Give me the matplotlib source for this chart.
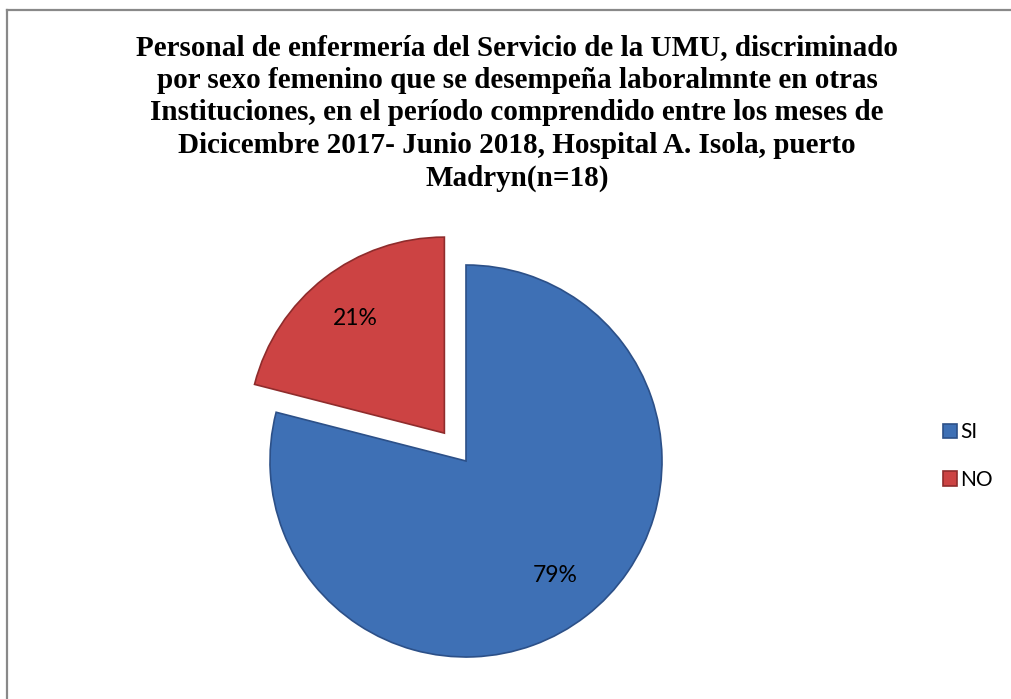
import matplotlib
matplotlib.use("Agg")
import matplotlib.pyplot as plt
from matplotlib.lines import Line2D

labels = ["SI", "NO"]
values = [79, 21]
colors = ["#3e70b5", "#cc4343"]
edge_colors = ["#2c5088", "#8f2c2c"]
explode = [0, 0.18]
title = ("Personal de enfermería del Servicio de la UMU, discriminado\n"
         "por sexo femenino que se desempeña laboralmnte en otras\n"
         "Instituciones, en el período comprendido entre los meses de\n"
         "Dicicembre 2017- Junio 2018, Hospital A. Isola, puerto\n"
         "Madryn(n=18)")

W, H = 1011, 699
fig = plt.figure(figsize=(W / 100, H / 100), dpi=100)

# pie center (px from left/top) and radius in px
cx, cy, r = 466, 461, 196
xl, xr, yb, yt = -1.5, 1.5, -1.2, 1.4
x0 = cx + xl * r
y0 = (H - cy) + yb * r
ax = fig.add_axes([x0 / W, y0 / H, (xr - xl) * r / W, (yt - yb) * r / H])
ax.set_xlim(xl, xr)
ax.set_ylim(yb, yt)
ax.axis("off")

wedges, texts, autotexts = ax.pie(
    values, explode=explode, colors=colors, startangle=90, counterclock=False,
    autopct="%1.0f%%", pctdistance=0.74, radius=1.0,
    wedgeprops=dict(linewidth=1.2),
    textprops=dict(fontsize=16.5, family="Lato", color="black"))
for w, ec in zip(wedges, edge_colors):
    w.set_edgecolor(ec)
ax.set_xlim(xl, xr)
ax.set_ylim(yb, yt)

fig.text(517 / W, 1 - 34 / H, title, ha="center", va="top",
         fontsize=21, fontweight="bold", family="Liberation Serif",
         linespacing=1.27)

leg = fig.legend(wedges, labels, loc="center left",
                 bbox_to_anchor=(924 / W, 1 - 456 / H), frameon=False,
                 prop=dict(family="Lato", size=15), handlelength=0.7,
                 handleheight=0.7, handletextpad=0.15, labelspacing=1.3)

# border (top and left only visible)
fig.add_artist(Line2D([7 / W, 1], [1 - 10 / H, 1 - 10 / H], color="#898989", lw=1.6))
fig.add_artist(Line2D([7 / W, 7 / W], [0, 1 - 10 / H], color="#898989", lw=1.6))

fig.savefig("out.png", dpi=100)
